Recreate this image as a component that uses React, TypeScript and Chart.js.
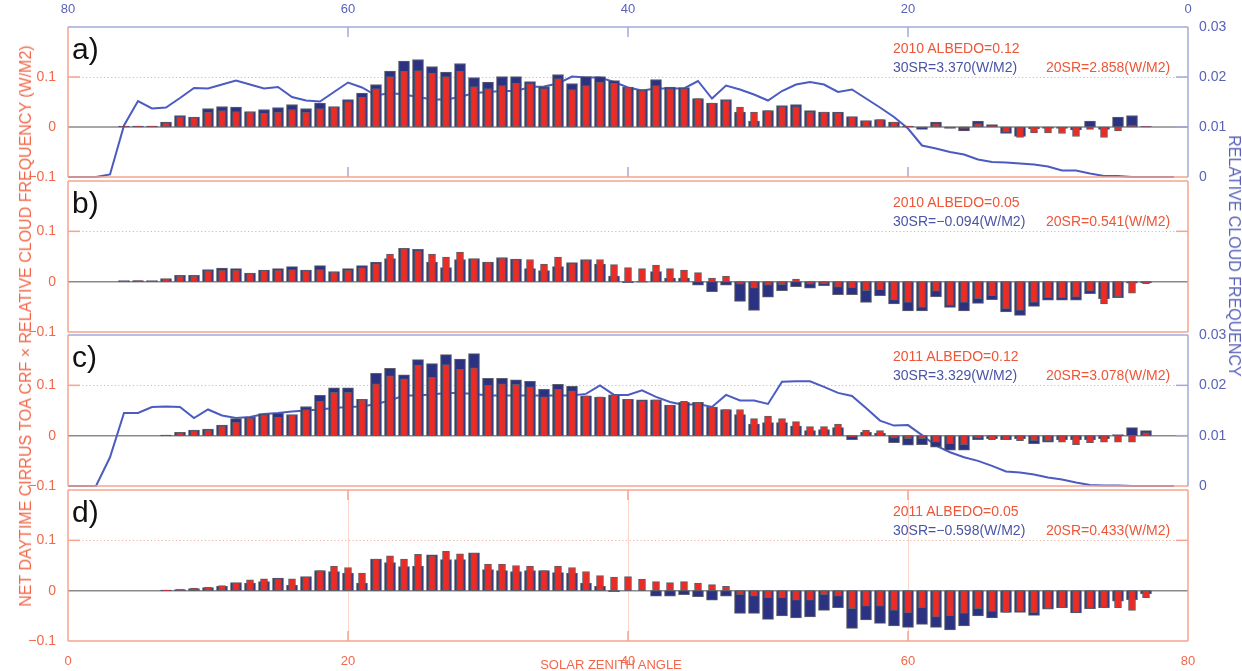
import React, { useEffect, useRef } from 'react';
import { Chart, registerables } from 'chart.js';

Chart.register(...registerables);

// ---- data -------------------------------------------------------------

// solar zenith angle of every bar (bottom axis)
const zenithAngles = [
  4, 5, 6, 7, 8, 9, 10, 11, 12, 13, 14, 15, 16, 17, 18, 19, 20, 21, 22, 23,
  24, 25, 26, 27, 28, 29, 30, 31, 32, 33, 34, 35, 36, 37, 38, 39, 40, 41, 42, 43,
  44, 45, 46, 47, 48, 49, 50, 51, 52, 53, 54, 55, 56, 57, 58, 59, 60, 61, 62, 63,
  64, 65, 66, 67, 68, 69, 70, 71, 72, 73, 74, 75, 76, 77,
];

// position of every cloud-frequency point on the (reversed) top axis
const topAxisPositions = [
  80, 79, 78, 77, 76, 75, 74, 73, 72, 71, 70, 69, 68, 67, 66, 65, 64, 63, 62, 61,
  60, 59, 58, 57, 56, 55, 54, 53, 52, 51, 50, 49, 48, 47, 46, 45, 44, 43, 42, 41,
  40, 39, 38, 37, 36, 35, 34, 33, 32, 31, 30, 29, 28, 27, 26, 25, 24, 23, 22, 21,
  20, 19, 18, 17, 16, 15, 14, 13, 12, 11, 10, 9, 8, 7, 6, 5, 4, 3, 2, 1,
];

// 2010, albedo 0.12
const sr30_2010_a12 = [
  0.002, 0.002, 0.002, 0.010, 0.023, 0.020, 0.037, 0.041, 0.040, 0.031,
  0.035, 0.039, 0.045, 0.037, 0.048, 0.041, 0.055, 0.068, 0.085, 0.112,
  0.132, 0.135, 0.121, 0.110, 0.127, 0.099, 0.090, 0.101, 0.101, 0.091,
  0.081, 0.105, 0.087, 0.101, 0.101, 0.093, 0.080, 0.075, 0.095, 0.080,
  0.079, 0.057, 0.048, 0.055, 0.030, 0.012, 0.033, 0.043, 0.045, 0.033,
  0.030, 0.030, 0.021, 0.013, 0.015, 0.010, 0.002, -0.005, 0.010, -0.003,
  -0.008, 0.012, 0.005, -0.013, -0.019, -0.004, -0.003, -0.003, -0.006, 0.012,
  -0.005, 0.020, 0.023, 0.001,
];
const sr20_2010_a12 = [
  0.001, 0.002, 0.002, 0.008, 0.020, 0.019, 0.030, 0.033, 0.031, 0.030,
  0.028, 0.030, 0.035, 0.030, 0.037, 0.040, 0.051, 0.060, 0.077, 0.101,
  0.112, 0.113, 0.108, 0.101, 0.112, 0.081, 0.077, 0.083, 0.088, 0.087,
  0.077, 0.097, 0.075, 0.083, 0.090, 0.088, 0.079, 0.073, 0.083, 0.077,
  0.077, 0.057, 0.048, 0.053, 0.040, 0.030, 0.033, 0.041, 0.041, 0.030,
  0.030, 0.028, 0.020, 0.012, 0.015, 0.010, 0.002, -0.002, 0.007, -0.002,
  -0.004, 0.007, 0.003, -0.010, -0.021, -0.012, -0.012, -0.013, -0.019, -0.005,
  -0.021, -0.008, 0.004, 0.001,
];

// 2010, albedo 0.05
const sr30_2010_a05 = [
  0.002, 0.002, 0.002, 0.006, 0.0125, 0.0125, 0.024, 0.027, 0.026, 0.017,
  0.023, 0.026, 0.030, 0.023, 0.032, 0.020, 0.026, 0.032, 0.039, 0.046,
  0.066, 0.064, 0.039, 0.028, 0.044, 0.046, 0.039, 0.048, 0.045, 0.026,
  0.022, 0.030, 0.038, 0.044, 0.035, 0.011, -0.002, -0.001, 0.020, 0.007,
  0.007, -0.007, -0.020, -0.007, -0.039, -0.057, -0.031, -0.018, -0.010, -0.013,
  -0.008, -0.026, -0.026, -0.041, -0.028, -0.044, -0.058, -0.058, -0.030, -0.051,
  -0.058, -0.043, -0.036, -0.060, -0.067, -0.049, -0.037, -0.037, -0.037, -0.024,
  -0.034, -0.032, -0.003, -0.002,
];
const sr20_2010_a05 = [
  0.001, 0.002, 0.001, 0.005, 0.011, 0.011, 0.022, 0.023, 0.023, 0.016,
  0.022, 0.023, 0.024, 0.022, 0.024, 0.019, 0.023, 0.028, 0.036, 0.055,
  0.066, 0.062, 0.055, 0.049, 0.059, 0.045, 0.039, 0.047, 0.044, 0.044,
  0.035, 0.049, 0.036, 0.043, 0.044, 0.034, 0.028, 0.026, 0.033, 0.026,
  0.023, 0.018, 0.007, 0.011, -0.005, -0.013, -0.007, -0.006, 0.005, -0.005,
  -0.005, -0.011, -0.012, -0.018, -0.016, -0.037, -0.041, -0.051, -0.019, -0.047,
  -0.041, -0.034, -0.028, -0.054, -0.057, -0.041, -0.032, -0.032, -0.031, -0.019,
  -0.044, -0.030, -0.023, -0.004,
];

// 2011, albedo 0.12
const sr30_2011_a12 = [
  0, 0, 0, 0.001, 0.0065, 0.011, 0.013, 0.021, 0.034, 0.037,
  0.044, 0.045, 0.042, 0.058, 0.080, 0.095, 0.095, 0.072, 0.124, 0.134,
  0.121, 0.151, 0.143, 0.161, 0.152, 0.163, 0.114, 0.114, 0.111, 0.108,
  0.092, 0.102, 0.098, 0.079, 0.076, 0.081, 0.072, 0.071, 0.071, 0.061,
  0.066, 0.066, 0.057, 0.052, 0.042, 0.023, 0.026, 0.026, 0.019, 0.010,
  0.012, 0.016, -0.008, 0.0065, 0.005, -0.014, -0.019, -0.018, -0.023, -0.029,
  -0.029, -0.008, -0.006, -0.008, -0.006, -0.016, -0.013, -0.008, -0.008, -0.008,
  -0.006, 0.002, 0.016, 0.010,
];
const sr20_2011_a12 = [
  0, 0, 0, 0.001, 0.005, 0.010, 0.011, 0.019, 0.027, 0.035,
  0.042, 0.037, 0.041, 0.052, 0.068, 0.086, 0.086, 0.071, 0.103, 0.119,
  0.113, 0.140, 0.116, 0.141, 0.132, 0.135, 0.100, 0.103, 0.102, 0.097,
  0.077, 0.092, 0.089, 0.079, 0.077, 0.081, 0.072, 0.069, 0.071, 0.061,
  0.068, 0.066, 0.057, 0.052, 0.052, 0.034, 0.039, 0.034, 0.028, 0.018,
  0.018, 0.023, -0.003, 0.011, 0.010, -0.005, -0.006, -0.006, -0.013, -0.016,
  -0.018, -0.005, -0.008, -0.008, -0.010, -0.010, -0.010, -0.013, -0.018, -0.014,
  -0.013, -0.013, -0.013, 0.006,
];

// 2011, albedo 0.05
const sr30_2011_a05 = [
  0, 0, 0, 0.001, 0.002, 0.004, 0.006, 0.0085, 0.016, 0.015,
  0.018, 0.025, 0.0105, 0.028, 0.040, 0.038, 0.035, 0.015, 0.063, 0.056,
  0.048, 0.049, 0.071, 0.062, 0.062, 0.075, 0.042, 0.040, 0.038, 0.040,
  0.040, 0.036, 0.035, 0.015, 0.0085, -0.002, 0, 0, -0.011, -0.011,
  -0.008, -0.012, -0.019, -0.011, -0.045, -0.045, -0.057, -0.050, -0.054, -0.052,
  -0.039, -0.034, -0.075, -0.058, -0.065, -0.070, -0.073, -0.067, -0.073, -0.078,
  -0.070, -0.050, -0.054, -0.043, -0.043, -0.049, -0.037, -0.034, -0.044, -0.036,
  -0.034, -0.021, -0.018, -0.006,
];
const sr20_2011_a05 = [
  0, 0, 0, 0.001, 0.003, 0.005, 0.0065, 0.010, 0.015, 0.0215,
  0.0235, 0.023, 0.0235, 0.027, 0.040, 0.049, 0.046, 0.035, 0.063, 0.069,
  0.063, 0.072, 0.069, 0.078, 0.073, 0.074, 0.053, 0.053, 0.050, 0.049,
  0.040, 0.049, 0.046, 0.038, 0.030, 0.027, 0.028, 0.023, 0.018, 0.016,
  0.018, 0.015, 0.012, 0.0085, -0.008, -0.011, -0.014, -0.014, -0.019, -0.019,
  -0.008, -0.011, -0.036, -0.031, -0.031, -0.039, -0.044, -0.034, -0.052, -0.050,
  -0.045, -0.036, -0.041, -0.043, -0.041, -0.044, -0.036, -0.034, -0.042, -0.034,
  -0.034, -0.034, -0.039, -0.014,
];

// relative cloud frequency (right axis), one value per topAxisPositions entry
const cloudFreq2010 = [
  0, 0, 0, 0.0005, 0.0103, 0.0152, 0.0137, 0.0139, 0.0158, 0.0178,
  0.0177, 0.0185, 0.0193, 0.0185, 0.0177, 0.0180, 0.0160, 0.0153, 0.0151, 0.0170,
  0.0189, 0.0179, 0.0163, 0.0168, 0.0165, 0.0160, 0.0155, 0.0155, 0.0160, 0.0168,
  0.0170, 0.0172, 0.0172, 0.0180, 0.0181, 0.0187, 0.0201, 0.0199, 0.0199, 0.0190,
  0.0179, 0.0173, 0.0177, 0.0177, 0.0177, 0.0192, 0.0157, 0.0183, 0.0175, 0.0165,
  0.0153, 0.0172, 0.0185, 0.0190, 0.0185, 0.0170, 0.0175, 0.0157, 0.0139, 0.0120,
  0.0097, 0.0063, 0.0057, 0.0050, 0.0045, 0.0035, 0.0030, 0.0029, 0.0027, 0.0025,
  0.0021, 0.0013, 0.0013, 0.0007, 0.0002, 0.0002, 0, 0, 0, 0,
];
const cloudFreq2011 = [
  0, 0, 0, 0.0057, 0.0145, 0.0145, 0.0157, 0.0158, 0.0157, 0.0135,
  0.0152, 0.0140, 0.0135, 0.0137, 0.0143, 0.0145, 0.0148, 0.0150, 0.0152, 0.0155,
  0.0157, 0.0158, 0.0163, 0.0170, 0.0180, 0.0180, 0.0182, 0.0185, 0.0185, 0.0183,
  0.0180, 0.0180, 0.0180, 0.0180, 0.0180, 0.0180, 0.0180, 0.0183, 0.0200, 0.0181,
  0.0181, 0.0190, 0.0177, 0.0167, 0.0161, 0.0163, 0.0157, 0.0181, 0.0170, 0.0170,
  0.0163, 0.0207, 0.0208, 0.0208, 0.0197, 0.0185, 0.0179, 0.0155, 0.0130, 0.0120,
  0.0121, 0.0101, 0.0080, 0.0067, 0.0057, 0.0050, 0.0040, 0.0029, 0.0027, 0.0023,
  0.0017, 0.0013, 0.0007, 0.0002, 0.0001, 0.0001, 0, 0, 0, 0,
];

// ---- look -------------------------------------------------------------

const W = 1242;
const H = 671;
const FONT = "'Liberation Sans', Arial, Helvetica, sans-serif";

const SALMON_TEXT = '#f2674a';
const SALMON_LINE = '#f6a48d';
const BLUE_TEXT = '#5962b6';
const BLUE_LINE = '#a3a9dc';
const NOTE_RED = '#ee5638';
const NOTE_BLUE = '#4a54a6';
const BAR_BLUE = '#2b3282';
const BAR_RED = '#ec2b25';
const BAR_EDGE = '#5e5e6a';
const FREQ_LINE = '#4b5bc2';
const ZERO_LINE = '#8a8a8a';

type Panel = {
  letter: string;
  year: string;
  albedo: string;
  sr30: string;
  sr20: string;
  sr30Series: number[];
  sr20Series: number[];
  freq: number[] | null;
  top: number;
  bottom: number;
  showTopAxis: boolean;
  showBottomAxis: boolean;
  topColor: string;
  rightColor: string;
  xTickColor: string | null;
  verticalGrid: boolean;
};

const panels: Panel[] = [
  {
    letter: 'a)', year: '2010', albedo: '0.12', sr30: '3.370', sr20: '2.858',
    sr30Series: sr30_2010_a12, sr20Series: sr20_2010_a12, freq: cloudFreq2010,
    top: 27, bottom: 177, showTopAxis: true, showBottomAxis: false,
    topColor: BLUE_LINE, rightColor: BLUE_LINE, xTickColor: BLUE_LINE, verticalGrid: false,
  },
  {
    letter: 'b)', year: '2010', albedo: '0.05', sr30: '\u22120.094', sr20: '0.541',
    sr30Series: sr30_2010_a05, sr20Series: sr20_2010_a05, freq: null,
    top: 181, bottom: 332, showTopAxis: false, showBottomAxis: false,
    topColor: SALMON_LINE, rightColor: SALMON_LINE, xTickColor: null, verticalGrid: false,
  },
  {
    letter: 'c)', year: '2011', albedo: '0.12', sr30: '3.329', sr20: '3.078',
    sr30Series: sr30_2011_a12, sr20Series: sr20_2011_a12, freq: cloudFreq2011,
    top: 335, bottom: 486, showTopAxis: false, showBottomAxis: false,
    topColor: BLUE_LINE, rightColor: BLUE_LINE, xTickColor: null, verticalGrid: false,
  },
  {
    letter: 'd)', year: '2011', albedo: '0.05', sr30: '\u22120.598', sr20: '0.433',
    sr30Series: sr30_2011_a05, sr20Series: sr20_2011_a05, freq: null,
    top: 490, bottom: 641, showTopAxis: false, showBottomAxis: true,
    topColor: SALMON_LINE, rightColor: SALMON_LINE, xTickColor: SALMON_LINE, verticalGrid: true,
  },
];

const LEFT_AXIS_W = 68;
const RIGHT_AXIS_W = 54;
const TOP_AXIS_H = 27;
const BOTTOM_AXIS_H = 30;

function fmtLeft(v: number): string {
  const r = Math.round(v * 10) / 10;
  if (r > 0.15) return '';
  if (r === 0) return '0';
  return r < 0 ? '\u2212' + Math.abs(r) : String(r);
}

function fmtRight(v: number): string {
  const r = Math.round(v * 100) / 100;
  return r === 0 ? '0' : r.toFixed(2);
}

// frame, inward tick marks, dotted 0.1 reference and zero line of one panel
function framePlugin(p: Panel) {
  const seg = (ctx: CanvasRenderingContext2D, x1: number, y1: number, x2: number, y2: number, color: string, w: number) => {
    ctx.strokeStyle = color;
    ctx.lineWidth = w;
    ctx.beginPath();
    ctx.moveTo(x1, y1);
    ctx.lineTo(x2, y2);
    ctx.stroke();
  };
  return {
    id: 'panelFrame',
    beforeDatasetsDraw(chart: any) {
      const { ctx, chartArea: ca, scales } = chart;
      const y = scales.y;
      const x = scales.x;
      ctx.save();
      if (p.verticalGrid) {
        [20, 40, 60].forEach((v) => {
          const px = Math.round(x.getPixelForValue(v)) + 0.5;
          seg(ctx, px, ca.top, px, ca.bottom, 'rgba(246,164,141,0.45)', 1);
        });
      }
      ctx.setLineDash([1.2, 2.4]);
      const yRef = Math.round(y.getPixelForValue(0.1)) + 0.5;
      seg(ctx, ca.left, yRef, ca.right, yRef, 'rgba(236,150,128,0.75)', 1);
      ctx.setLineDash([]);
      const y0 = y.getPixelForValue(0);
      seg(ctx, ca.left, y0, ca.right, y0, ZERO_LINE, 1.5);
      ctx.restore();
    },
    afterDatasetsDraw(chart: any) {
      const { ctx, chartArea: ca, scales } = chart;
      const y = scales.y;
      const x = scales.x;
      const tickLen = 12;
      ctx.save();
      // left ticks
      const y01 = y.getPixelForValue(0.1);
      seg(ctx, ca.left, y01, ca.left + tickLen, y01, SALMON_LINE, 1.5);
      // right ticks
      if (p.freq) {
        const yr = scales.yRight;
        [0.01, 0.02].forEach((v) => {
          const py = yr.getPixelForValue(v);
          seg(ctx, ca.right - tickLen, py, ca.right, py, BLUE_LINE, 1.5);
        });
      } else {
        seg(ctx, ca.right - tickLen, y01, ca.right, y01, SALMON_LINE, 1.5);
      }
      // x ticks
      if (p.xTickColor) {
        [20, 40, 60].forEach((v) => {
          const px = x.getPixelForValue(v);
          seg(ctx, px, ca.top, px, ca.top + 10, p.xTickColor as string, 1.5);
          seg(ctx, px, ca.bottom - 10, px, ca.bottom, p.xTickColor as string, 1.5);
        });
      }
      // frame
      seg(ctx, ca.left, ca.bottom, ca.right, ca.bottom, SALMON_LINE, 1.5);
      seg(ctx, ca.left, ca.top, ca.left, ca.bottom, SALMON_LINE, 1.5);
      seg(ctx, ca.right, ca.top, ca.right, ca.bottom, p.rightColor, 1.5);
      seg(ctx, ca.left, ca.top, ca.right, ca.top, p.topColor, 1.5);
      ctx.restore();
    },
  };
}

function buildChart(canvas: HTMLCanvasElement, p: Panel): Chart {
  const datasets: any[] = [];
  if (p.freq) {
    datasets.push({
      type: 'line',
      label: 'RELATIVE CLOUD FREQUENCY',
      data: topAxisPositions.map((t, i) => ({ x: t, y: (p.freq as number[])[i] })),
      xAxisID: 'xTop',
      yAxisID: 'yRight',
      borderColor: FREQ_LINE,
      borderWidth: 2,
      pointRadius: 0,
      tension: 0,
      clip: false,
      order: 2,
    });
  }
  datasets.push({
    type: 'bar',
    label: '30SR',
    data: zenithAngles.map((a, i) => ({ x: a, y: p.sr30Series[i] })),
    xAxisID: 'x',
    yAxisID: 'y',
    backgroundColor: BAR_BLUE,
    borderColor: BAR_EDGE,
    borderWidth: 1,
    borderSkipped: false,
    barThickness: 11,
    grouped: false,
    order: 1,
  });
  datasets.push({
    type: 'bar',
    label: '20SR',
    data: zenithAngles.map((a, i) => ({ x: a, y: p.sr20Series[i] })),
    xAxisID: 'x',
    yAxisID: 'y',
    backgroundColor: BAR_RED,
    borderColor: BAR_EDGE,
    borderWidth: 1,
    borderSkipped: false,
    barThickness: 7,
    grouped: false,
    order: 0,
  });

  const scales: any = {
    x: {
      type: 'linear',
      position: 'bottom',
      min: 0,
      max: 80,
      offset: false,
      display: p.showBottomAxis,
      grid: { display: false, offset: false },
      border: { display: false },
      ticks: {
        stepSize: 20,
        color: SALMON_TEXT,
        font: { family: FONT, size: 13 },
        padding: 5,
        maxRotation: 0,
        autoSkip: false,
      },
      afterFit: (s: any) => { if (p.showBottomAxis) s.height = BOTTOM_AXIS_H; },
    },
    y: {
      type: 'linear',
      position: 'left',
      min: -0.1,
      max: 0.2,
      grid: { display: false },
      border: { display: false },
      ticks: {
        stepSize: 0.1,
        color: SALMON_TEXT,
        font: { family: FONT, size: 14 },
        padding: 4,
        callback: (v: any) => fmtLeft(Number(v)),
      },
      afterFit: (s: any) => { s.width = LEFT_AXIS_W; },
    },
  };
  if (p.freq) {
    scales.xTop = {
      type: 'linear',
      position: 'top',
      reverse: true,
      min: 0,
      max: 80,
      offset: false,
      display: p.showTopAxis,
      grid: { display: false, offset: false },
      border: { display: false },
      ticks: {
        stepSize: 20,
        color: BLUE_TEXT,
        font: { family: FONT, size: 13 },
        padding: 2,
        maxRotation: 0,
        autoSkip: false,
      },
      afterFit: (s: any) => { if (p.showTopAxis) s.height = TOP_AXIS_H; },
    };
    scales.yRight = {
      type: 'linear',
      position: 'right',
      min: 0,
      max: 0.03,
      grid: { display: false },
      border: { display: false },
      ticks: {
        stepSize: 0.01,
        color: BLUE_TEXT,
        font: { family: FONT, size: 14 },
        padding: 3,
        callback: (v: any) => fmtRight(Number(v)),
      },
      afterFit: (s: any) => { s.width = RIGHT_AXIS_W; },
    };
  }

  return new Chart(canvas, {
    type: 'bar',
    data: { datasets },
    options: {
      animation: false,
      responsive: false,
      devicePixelRatio: 1,
      layout: {
        padding: {
          left: 0,
          right: p.freq ? 0 : RIGHT_AXIS_W,
          top: p.showTopAxis ? p.top - TOP_AXIS_H : p.top,
          bottom: p.showBottomAxis ? H - p.bottom - BOTTOM_AXIS_H : H - p.bottom,
        },
      },
      plugins: {
        legend: { display: false },
        tooltip: { enabled: false },
      },
      scales,
    } as any,
    plugins: [framePlugin(p)],
  });
}

const textBase: React.CSSProperties = {
  position: 'absolute',
  fontFamily: FONT,
  whiteSpace: 'nowrap',
  lineHeight: 1,
};

export default function App() {
  const refs = useRef<(HTMLCanvasElement | null)[]>([]);

  useEffect(() => {
    const charts = panels.map((p, i) => buildChart(refs.current[i] as HTMLCanvasElement, p));
    return () => charts.forEach((c) => c.destroy());
  }, []);

  return (
    <div style={{ position: 'fixed', left: 0, top: 0, width: W, height: H, background: '#fff', overflow: 'hidden' }}>
      {panels.map((p, i) => (
        <canvas
          key={p.letter}
          ref={(el) => { refs.current[i] = el; }}
          width={W}
          height={H}
          style={{ position: 'absolute', left: 0, top: 0, width: W, height: H }}
        />
      ))}
      {panels.map((p) => (
        <React.Fragment key={'t' + p.letter}>
          <div style={{ ...textBase, left: 72, top: p.top + 7, fontSize: 30, color: '#111' }}>{p.letter}</div>
          <div style={{ ...textBase, left: 893, top: p.top + 14, fontSize: 14, color: NOTE_RED }}>
            {p.year} ALBEDO={p.albedo}
          </div>
          <div style={{ ...textBase, left: 893, top: p.top + 33, fontSize: 14, color: NOTE_BLUE }}>
            30SR={p.sr30}(W/M2)
          </div>
          <div style={{ ...textBase, left: 1046, top: p.top + 33, fontSize: 14, color: NOTE_RED }}>
            20SR={p.sr20}(W/M2)
          </div>
        </React.Fragment>
      ))}
      <div
        style={{
          ...textBase,
          left: 26,
          top: 326,
          fontSize: 16,
          color: SALMON_TEXT,
          transform: 'translate(-50%, -50%) rotate(-90deg)',
        }}
      >
        NET DAYTIME CIRRUS TOA CRF × RELATIVE CLOUD FREQUENCY (W/M2)
      </div>
      <div
        style={{
          ...textBase,
          left: 1234,
          top: 256,
          fontSize: 16,
          color: BLUE_TEXT,
          transform: 'translate(-50%, -50%) rotate(90deg)',
        }}
      >
        RELATIVE CLOUD FREQUENCY
      </div>
      <div
        style={{
          ...textBase,
          left: 611,
          top: 664,
          fontSize: 13,
          color: SALMON_TEXT,
          transform: 'translate(-50%, -50%)',
        }}
      >
        SOLAR ZENITH ANGLE
      </div>
    </div>
  );
}
